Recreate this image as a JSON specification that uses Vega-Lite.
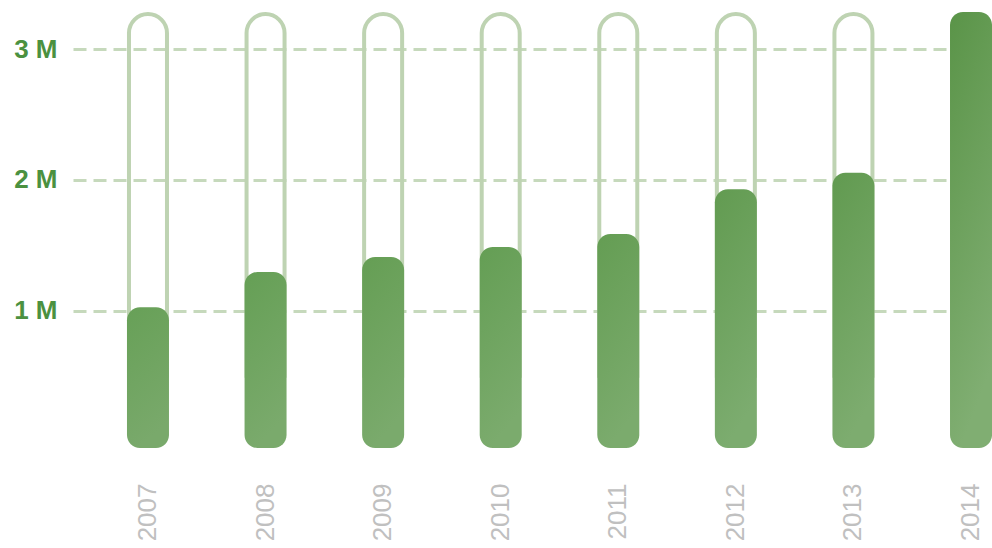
{
  "$schema": "https://vega.github.io/schema/vega-lite/v6.json",
  "width": 919,
  "height": 436,
  "autosize": {"type": "none"},
  "padding": {"left": 73, "top": 12, "right": 0, "bottom": 100},
  "background": "white",
  "config": {
    "view": {"stroke": null},
    "font": "Liberation Sans"
  },
  "data": {
    "values": [
      {"year": "2007", "value": 1025000},
      {"year": "2008", "value": 1295000},
      {"year": "2009", "value": 1409000},
      {"year": "2010", "value": 1486000},
      {"year": "2011", "value": 1585000},
      {"year": "2012", "value": 1927000},
      {"year": "2013", "value": 2054000},
      {"year": "2014", "value": 3284000}
    ]
  },
  "encoding": {
    "x": {
      "field": "year",
      "type": "nominal",
      "sort": null,
      "scale": {"type": "band", "paddingInner": 0.643, "paddingOuter": 0.2296, "align": 1},
      "axis": {
        "title": null,
        "labelAngle": -90,
        "labelColor": "#c0c0c0",
        "labelFontSize": 26,
        "labelPadding": 35,
        "domain": false,
        "ticks": false,
        "grid": false
      }
    },
    "y": {
      "field": "value",
      "type": "quantitative",
      "scale": {"domain": [-52000, 3284000], "nice": false, "zero": false},
      "axis": {
        "title": null,
        "values": [1000000, 2000000, 3000000],
        "labelExpr": "(datum.value / 1000000) + ' M'",
        "labelColor": "#4b9140",
        "labelFontSize": 26,
        "labelFontWeight": "bold",
        "labelPadding": 16,
        "domain": false,
        "ticks": false,
        "grid": true,
        "gridColor": "#c6d9bc",
        "gridWidth": 3,
        "gridDash": [13, 7]
      }
    },
    "y2": {"datum": -52000}
  },
  "layer": [
    {
      "mark": {"type": "bar", "size": 38, "fill": null, "fillOpacity": 0, "stroke": "#bed3b2", "strokeWidth": 4, "cornerRadiusTopLeft": 19, "cornerRadiusTopRight": 19},
      "encoding": {
        "y": {"datum": 3268000, "type": "quantitative"},
        "y2": {"datum": 500000}
      }
    },
    {
      "transform": [{"filter": "datum.year == '2007'"}],
      "mark": {"type": "bar", "size": 42, "cornerRadius": 13,
        "color": {"gradient": "linear", "x1": 0, "y1": 0, "x2": 0.25, "y2": 1,
          "stops": [{"offset": 0, "color": "#67a057"}, {"offset": 1, "color": "#79a96b"}]}}
    },
    {
      "transform": [{"filter": "datum.year == '2008'"}],
      "mark": {"type": "bar", "size": 42, "cornerRadius": 13,
        "color": {"gradient": "linear", "x1": 0, "y1": 0, "x2": 0.25, "y2": 1,
          "stops": [{"offset": 0, "color": "#659f55"}, {"offset": 1, "color": "#7aaa6c"}]}}
    },
    {
      "transform": [{"filter": "datum.year == '2009'"}],
      "mark": {"type": "bar", "size": 42, "cornerRadius": 13,
        "color": {"gradient": "linear", "x1": 0, "y1": 0, "x2": 0.25, "y2": 1,
          "stops": [{"offset": 0, "color": "#659e54"}, {"offset": 1, "color": "#7aaa6c"}]}}
    },
    {
      "transform": [{"filter": "datum.year == '2010'"}],
      "mark": {"type": "bar", "size": 42, "cornerRadius": 13,
        "color": {"gradient": "linear", "x1": 0, "y1": 0, "x2": 0.25, "y2": 1,
          "stops": [{"offset": 0, "color": "#649e54"}, {"offset": 1, "color": "#7bab6d"}]}}
    },
    {
      "transform": [{"filter": "datum.year == '2011'"}],
      "mark": {"type": "bar", "size": 42, "cornerRadius": 13,
        "color": {"gradient": "linear", "x1": 0, "y1": 0, "x2": 0.25, "y2": 1,
          "stops": [{"offset": 0, "color": "#649d53"}, {"offset": 1, "color": "#7bab6d"}]}}
    },
    {
      "transform": [{"filter": "datum.year == '2012'"}],
      "mark": {"type": "bar", "size": 42, "cornerRadius": 13,
        "color": {"gradient": "linear", "x1": 0, "y1": 0, "x2": 0.25, "y2": 1,
          "stops": [{"offset": 0, "color": "#629b51"}, {"offset": 1, "color": "#7cac6f"}]}}
    },
    {
      "transform": [{"filter": "datum.year == '2013'"}],
      "mark": {"type": "bar", "size": 42, "cornerRadius": 13,
        "color": {"gradient": "linear", "x1": 0, "y1": 0, "x2": 0.25, "y2": 1,
          "stops": [{"offset": 0, "color": "#619a50"}, {"offset": 1, "color": "#7dac6f"}]}}
    },
    {
      "transform": [{"filter": "datum.year == '2014'"}],
      "mark": {"type": "bar", "size": 42, "cornerRadius": 13,
        "color": {"gradient": "linear", "x1": 0, "y1": 0, "x2": 0.25, "y2": 1,
          "stops": [{"offset": 0, "color": "#5a9448"}, {"offset": 1, "color": "#80ae72"}]}}
    }
  ]
}
